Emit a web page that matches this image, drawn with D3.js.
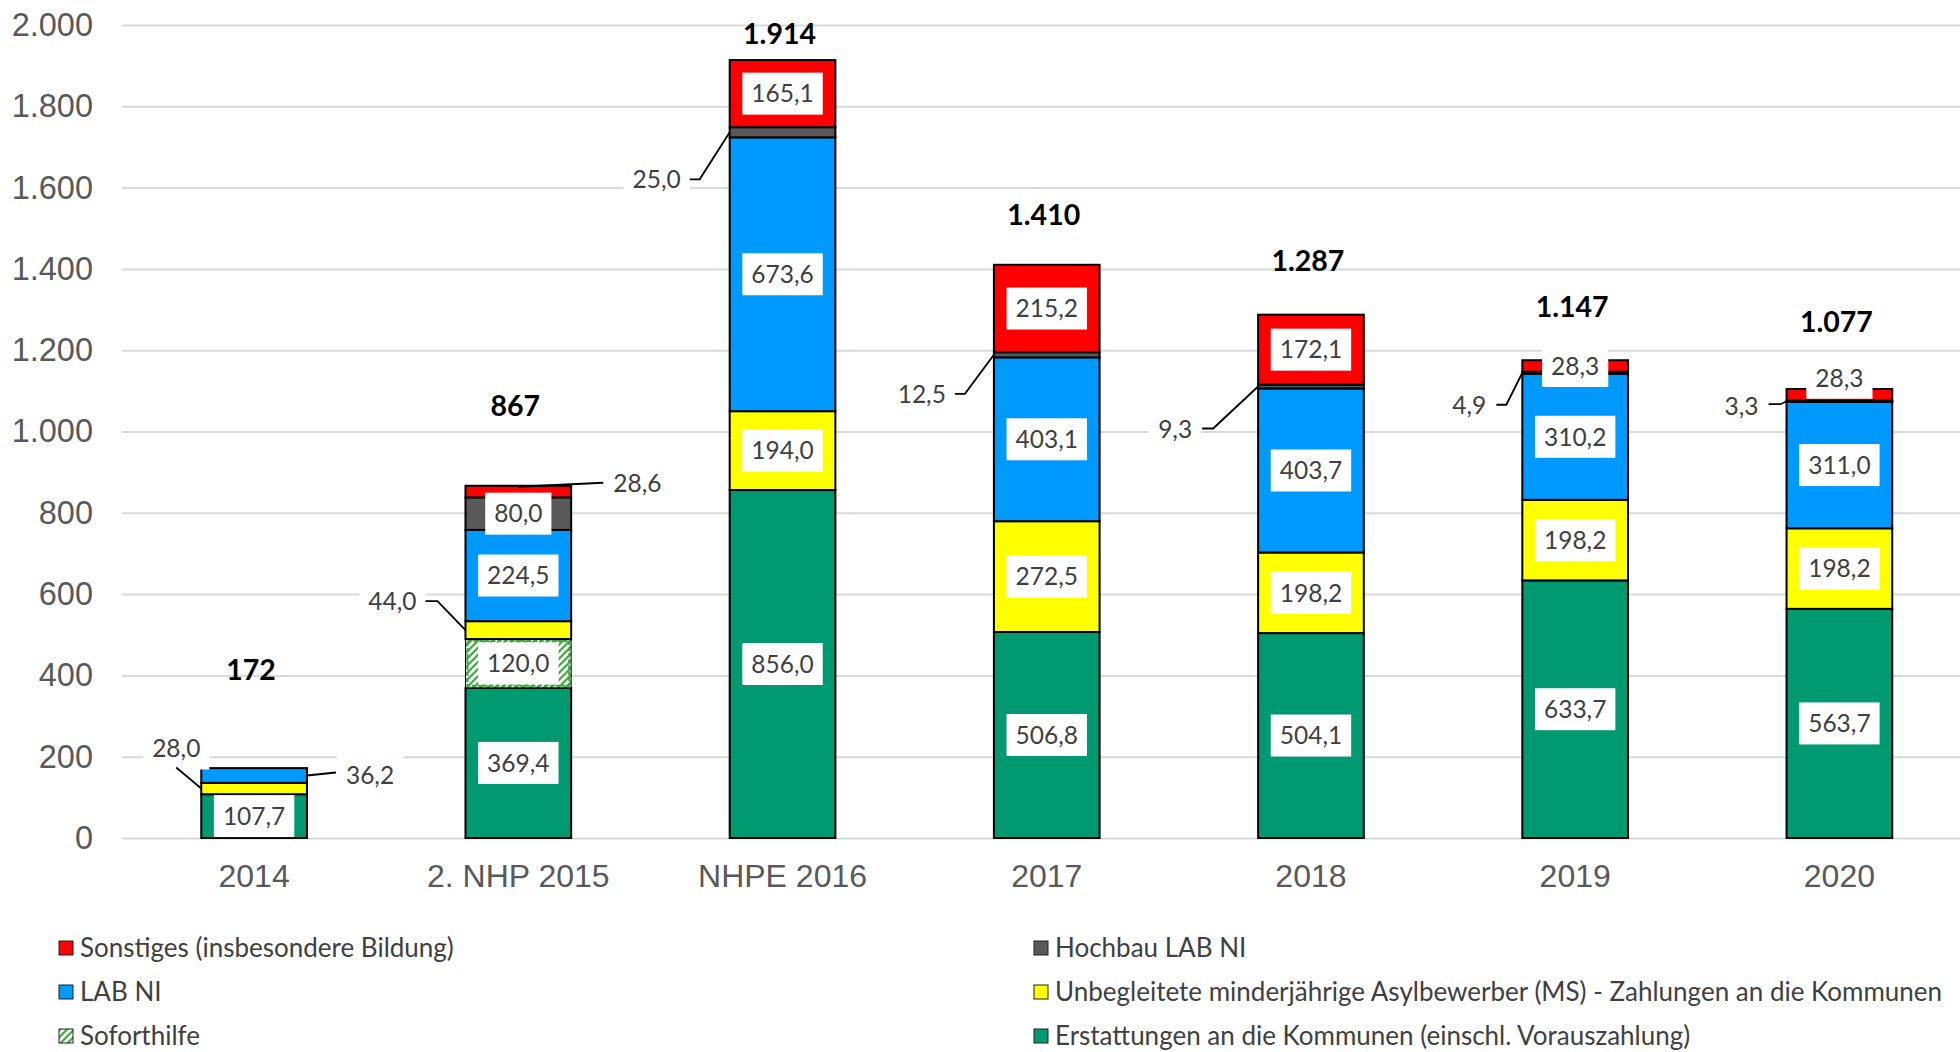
<!DOCTYPE html>
<html>
<head>
<meta charset="utf-8">
<script src="https://cdn.jsdelivr.net/npm/d3@7"></script>
<style>
  body { margin: 0; background: #fff; }
  svg { display: block; }
</style>
</head>
<body>
<div id="chart"></div>
<script>
// data (Mio. EUR)
const categories = ["2014", "2. NHP 2015", "NHPE 2016", "2017", "2018", "2019", "2020"];
const erstattungen = [107.7, 369.4, 856.0, 506.8, 504.1, 633.7, 563.7];
const soforthilfe = [0, 120.0, 0, 0, 0, 0, 0];
const uma = [28.0, 44.0, 194.0, 272.5, 198.2, 198.2, 198.2];
const labNi = [36.2, 224.5, 673.6, 403.1, 403.7, 310.2, 311.0];
const hochbau = [0, 80.0, 25.0, 12.5, 9.3, 4.9, 3.3];
const sonstiges = [0, 28.6, 165.1, 215.2, 172.1, 28.3, 28.3];
const totals = [172, 867, 1914, 1410, 1287, 1147, 1077];
const yTicks = [0, 200, 400, 600, 800, 1000, 1200, 1400, 1600, 1800, 2000];

const seriesKeys = ["erstattungen", "soforthilfe", "uma", "labNi", "hochbau", "sonstiges"];
const seriesNames = {
  erstattungen: "Erstattungen an die Kommunen (einschl. Vorauszahlung)",
  soforthilfe: "Soforthilfe",
  uma: "Unbegleitete minderjährige Asylbewerber (MS) - Zahlungen an die Kommunen",
  labNi: "LAB NI",
  hochbau: "Hochbau LAB NI",
  sonstiges: "Sonstiges (insbesondere Bildung)"
};
const seriesColors = {
  erstattungen: "#009970",
  soforthilfe: "url(#hatch)",
  uma: "#FFFF00",
  labNi: "#0099FF",
  hochbau: "#595959",
  sonstiges: "#FF0000"
};

const rows = categories.map((c, i) => ({
  category: c,
  erstattungen: erstattungen[i],
  soforthilfe: soforthilfe[i],
  uma: uma[i],
  labNi: labNi[i],
  hochbau: hochbau[i],
  sonstiges: sonstiges[i]
}));

// where the bold totals sit (in axis units), placed by hand in the original
const totalLabelLevel = [413, 1063, 1978, 1533, 1419, 1306, 1269];

// labels that sit outside the bar with a leader line (pixel offsets from the anchor)
const callouts = [
  { cat: "2014", key: "uma", side: "left", path: [[-25, -21]], text: [-25, -40], align: "middle" },
  { cat: "2014", key: "labNi", side: "right", path: [[29, -3]], text: [39, 0], align: "start" },
  { cat: "2. NHP 2015", key: "sonstiges", side: "top", path: [[85, -4]], text: [95, -4], align: "start" },
  { cat: "2. NHP 2015", key: "uma", side: "left", path: [[-28, -29], [-40, -29]], text: [-49, -29], align: "end" },
  { cat: "NHPE 2016", key: "hochbau", side: "left", path: [[-30, 47], [-40, 47]], text: [-49, 47], align: "end" },
  { cat: "2017", key: "hochbau", side: "left", path: [[-29, 39], [-39, 39]], text: [-48, 39], align: "end" },
  { cat: "2018", key: "hochbau", side: "left", path: [[-45, 42], [-56, 42]], text: [-66, 43], align: "end" },
  { cat: "2019", key: "hochbau", side: "left", path: [[-16, 32], [-26, 32]], text: [-36, 32], align: "end" },
  { cat: "2020", key: "hochbau", side: "left", path: [[-6, 3], [-18, 3]], text: [-28, 5], align: "end" }
];
const labelShift = { "2020|sonstiges": -17 };

const de = d3.formatLocale({ decimal: ",", thousands: ".", grouping: [3], currency: ["", " €"] });
const fmtVal = de.format(",.1f");
const fmtInt = de.format(",d");

const width = 1960, height = 1052;
const svg = d3.select("#chart").append("svg").attr("width", width).attr("height", height);

// hatch for Soforthilfe
const pat = svg.append("defs").append("pattern")
  .attr("id", "hatch").attr("patternUnits", "userSpaceOnUse")
  .attr("width", 5).attr("height", 5).attr("patternTransform", "rotate(45)");
pat.append("rect").attr("width", 5).attr("height", 5).attr("fill", "#fff");
pat.append("rect").attr("width", 2.2).attr("height", 5).attr("fill", "#3DA63D");

const x = d3.scaleBand().domain(categories).range([122, 1971.5]).paddingInner(0.6).paddingOuter(0.3);
const y = d3.scaleLinear().domain([0, 2000]).range([838, 25]);

// gridlines
svg.append("g")
  .attr("transform", "translate(122,0)")
  .call(d3.axisLeft(y).tickValues(yTicks).tickSize(-(width - 122)).tickFormat(""))
  .call(g => g.select(".domain").remove())
  .call(g => g.selectAll("line").attr("stroke", "#D9D9D9").attr("stroke-width", 2));

// y axis labels
svg.append("g")
  .attr("transform", "translate(122,0)")
  .call(d3.axisLeft(y).tickValues(yTicks).tickSize(0).tickPadding(29).tickFormat(fmtInt))
  .call(g => g.select(".domain").remove())
  .call(g => g.selectAll("text")
    .attr("font-family", "'Liberation Sans', Arial, sans-serif")
    .attr("font-size", 32.5).attr("fill", "#595959"));

// x axis labels
svg.append("g")
  .attr("transform", "translate(0,838)")
  .call(d3.axisBottom(x).tickSize(0).tickPadding(26))
  .call(g => g.select(".domain").remove())
  .call(g => g.selectAll("text")
    .attr("font-family", "'Liberation Sans', Arial, sans-serif")
    .attr("font-size", 32).attr("fill", "#595959"));

// stacked bars
const stacked = d3.stack().keys(seriesKeys)(rows);
const segments = [];
stacked.forEach(layer => {
  layer.forEach(d => {
    if (d[1] - d[0] > 0) segments.push({ key: layer.key, cat: d.data.category, y0: d[0], y1: d[1] });
  });
});

svg.append("g").selectAll("rect")
  .data(segments)
  .join("rect")
  .attr("x", d => x(d.cat))
  .attr("width", x.bandwidth())
  .attr("y", d => y(d.y1))
  .attr("height", d => y(d.y0) - y(d.y1))
  .attr("fill", d => seriesColors[d.key])
  .attr("stroke", d => d.key === "soforthilfe" ? "none" : "#000")
  .attr("stroke-width", 2);

// dashed green outline on the hatched part
svg.append("g").selectAll("rect")
  .data(segments.filter(d => d.key === "soforthilfe"))
  .join("rect")
  .attr("x", d => x(d.cat) + 2)
  .attr("width", x.bandwidth() - 4)
  .attr("y", d => y(d.y1) + 2)
  .attr("height", d => y(d.y0) - y(d.y1) - 4)
  .attr("fill", "none")
  .attr("stroke", "#3DA63D")
  .attr("stroke-width", 2)
  .attr("stroke-dasharray", "4,2");
// black edges around the hatched part
svg.append("g").selectAll("rect")
  .data(segments.filter(d => d.key === "soforthilfe"))
  .join("rect")
  .attr("x", d => x(d.cat))
  .attr("width", x.bandwidth())
  .attr("y", d => y(d.y1))
  .attr("height", d => y(d.y0) - y(d.y1))
  .attr("fill", "none")
  .attr("stroke", "#000")
  .attr("stroke-width", 1);

const labelFont = "Lato, 'Open Sans', sans-serif";
const labels = svg.append("g");

function boxedText(px, py, txt, align) {
  const g = labels.append("g");
  const t = g.append("text")
    .attr("x", px).attr("y", py).attr("dy", "0.36em")
    .attr("text-anchor", align)
    .attr("font-family", labelFont).attr("font-size", 24.5).attr("fill", "#404040")
    .text(txt);
  const bb = t.node().getBBox();
  g.insert("rect", "text")
    .attr("x", bb.x - 9).attr("y", py - 21)
    .attr("width", bb.width + 18).attr("height", 42)
    .attr("fill", "#fff");
}

const calloutIndex = new Map(callouts.map(c => [c.cat + "|" + c.key, c]));

segments.forEach(d => {
  const id = d.cat + "|" + d.key;
  const c = calloutIndex.get(id);
  const cx = x(d.cat) + x.bandwidth() / 2;
  const mid = y((d.y0 + d.y1) / 2);
  if (c) {
    let ax = cx, ay = mid;
    if (c.side === "left") ax = x(d.cat);
    if (c.side === "right") ax = x(d.cat) + x.bandwidth();
    if (c.side === "top") ay = y(d.y1) + 1;
    const pts = [[ax, ay]].concat(c.path.map(p => [ax + p[0], ay + p[1]]));
    boxedText(ax + c.text[0], ay + c.text[1], fmtVal(d.y1 - d.y0), c.align);
    labels.append("path")
      .attr("d", d3.line()(pts))
      .attr("fill", "none").attr("stroke", "#000").attr("stroke-width", 1.8);
  } else {
    boxedText(cx, mid + (labelShift[id] || 0), fmtVal(d.y1 - d.y0), "middle");
  }
});

// totals
svg.append("g").selectAll("text")
  .data(categories)
  .join("text")
  .attr("x", c => x(c) + x.bandwidth() / 2 - 3)
  .attr("y", (c, i) => y(totalLabelLevel[i]))
  .attr("dy", "0.36em")
  .attr("text-anchor", "middle")
  .attr("font-family", labelFont).attr("font-weight", "bold")
  .attr("font-size", 28.5).attr("fill", "#000")
  .text((c, i) => fmtInt(totals[i]));

// legend
const legendKeys = seriesKeys.slice().reverse();
const legend = svg.append("g").selectAll("g")
  .data(legendKeys)
  .join("g")
  .attr("transform", (k, i) => `translate(${i % 2 ? 1034 : 59},${948 + Math.floor(i / 2) * 44})`);
legend.append("rect")
  .attr("x", 0).attr("y", -7).attr("width", 14).attr("height", 14)
  .attr("fill", k => seriesColors[k])
  .attr("stroke", "#222").attr("stroke-width", 1);
legend.append("text")
  .attr("x", 21).attr("dy", "0.34em")
  .attr("font-family", labelFont).attr("font-size", 26).attr("fill", "#404040")
  .text(k => seriesNames[k]);
</script>
</body>
</html>
